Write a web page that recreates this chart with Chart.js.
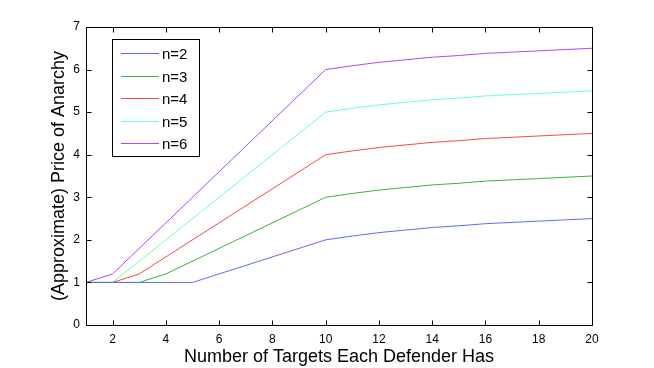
<!DOCTYPE html>
<html>
<head>
<meta charset="utf-8">
<title>Price of Anarchy</title>
<script src="https://cdn.jsdelivr.net/npm/chart.js@4.4.0/dist/chart.umd.min.js"></script>
<style>
    html, body { margin: 0; padding: 0; background: #fff; }
    #wrap { width: 654px; height: 368px; }
</style>
</head>
<body>
<div id="wrap"><canvas id="poaChart" width="654" height="368"></canvas></div>
<script>
// Values
const seriesLabels = ['n=2', 'n=3', 'n=4', 'n=5', 'n=6'];
const seriesColors = ['#5b6bff', '#3cb43c', '#ff4545', '#6cffc4', '#ac45ff'];

const xN2 = [1, 5, 10, 11, 12, 13, 14, 15, 16, 17, 18, 19, 20];
const yN2 = [1, 1, 2, 2.09, 2.17, 2.23, 2.29, 2.33, 2.38, 2.41, 2.44, 2.47, 2.5];

const xN3 = [1, 3, 4, 10, 11, 12, 13, 14, 15, 16, 17, 18, 19, 20];
const yN3 = [1, 1, 1.2, 3, 3.09, 3.17, 3.23, 3.29, 3.33, 3.38, 3.41, 3.44, 3.47, 3.5];

const xN4 = [1, 2, 3, 10, 11, 12, 13, 14, 15, 16, 17, 18, 19, 20];
const yN4 = [1, 1, 1.2, 4, 4.09, 4.17, 4.23, 4.29, 4.33, 4.38, 4.41, 4.44, 4.47, 4.5];

const xN5 = [1, 2, 10, 11, 12, 13, 14, 15, 16, 17, 18, 19, 20];
const yN5 = [1, 1, 5, 5.09, 5.17, 5.23, 5.29, 5.33, 5.38, 5.41, 5.44, 5.47, 5.5];

const xN6 = [1, 2, 10, 11, 12, 13, 14, 15, 16, 17, 18, 19, 20];
const yN6 = [1, 1.2, 6, 6.09, 6.17, 6.23, 6.29, 6.33, 6.38, 6.41, 6.44, 6.47, 6.5];

const xTicks = [2, 4, 6, 8, 10, 12, 14, 16, 18, 20];
const yTicks = [0, 1, 2, 3, 4, 5, 6, 7];

const FONT = '"Liberation Sans", Arial, Helvetica, sans-serif';

function toPoints(xs, ys) {
    return xs.map((x, i) => ({ x: x, y: ys[i] }));
}

const allX = [xN2, xN3, xN4, xN5, xN6];
const allY = [yN2, yN3, yN4, yN5, yN6];

const datasets = seriesLabels.map((label, i) => ({
    label: label,
    data: toPoints(allX[i], allY[i]),
    borderColor: seriesColors[i],
    backgroundColor: seriesColors[i],
    borderWidth: 1,
    pointRadius: 0,
    tension: 0,
    fill: false
}));

// box round the plot, with inward tick marks on all four sides
const framePlugin = {
    id: 'frame',
    afterDraw(chart) {
        const ctx = chart.ctx;
        const a = chart.chartArea;
        const xs = chart.scales.x, ys = chart.scales.y;
        const L = Math.round(a.left) + 0.5, R = Math.round(a.right) + 0.5;
        const T = Math.round(a.top) + 0.5, B = Math.round(a.bottom) + 0.5;
        const tl = 5;
        ctx.save();
        ctx.strokeStyle = '#000';
        ctx.lineWidth = 1;
        ctx.beginPath();
        ctx.rect(L, T, R - L, B - T);
        xTicks.forEach(v => {
            const px = Math.round(xs.getPixelForValue(v)) + 0.5;
            ctx.moveTo(px, B); ctx.lineTo(px, B - tl);
            ctx.moveTo(px, T); ctx.lineTo(px, T + tl);
        });
        yTicks.forEach(v => {
            const py = Math.round(ys.getPixelForValue(v)) + 0.5;
            ctx.moveTo(L, py); ctx.lineTo(L + tl, py);
            ctx.moveTo(R, py); ctx.lineTo(R - tl, py);
        });
        ctx.stroke();
        ctx.restore();
    }
};

// legend box in the upper left of the plot
const legendPlugin = {
    id: 'boxLegend',
    afterDraw(chart) {
        const ctx = chart.ctx;
        const bx = 112.5, by = 39.5, bw = 87, bh = 117;
        ctx.save();
        ctx.fillStyle = '#fff';
        ctx.fillRect(bx, by, bw, bh);
        ctx.strokeStyle = '#000';
        ctx.lineWidth = 1;
        ctx.strokeRect(bx, by, bw, bh);
        ctx.font = '15px ' + FONT;
        ctx.textBaseline = 'middle';
        ctx.textAlign = 'left';
        chart.data.datasets.forEach((ds, i) => {
            const y = Math.round(53 + i * 22.5) + 0.5;
            ctx.strokeStyle = ds.borderColor;
            ctx.beginPath();
            ctx.moveTo(121, y);
            ctx.lineTo(159, y);
            ctx.stroke();
            ctx.fillStyle = '#000';
            ctx.fillText(ds.label, 162, y + 1);
        });
        ctx.restore();
    }
};

new Chart(document.getElementById('poaChart'), {
    type: 'line',
    data: { datasets: datasets },
    options: {
        responsive: false,
        animation: false,
        devicePixelRatio: 1,
        layout: { padding: { top: 27, right: 62, left: 0, bottom: 0 } },
        plugins: {
            legend: { display: false },
            tooltip: { enabled: false }
        },
        scales: {
            x: {
                type: 'linear',
                min: 1,
                max: 20,
                afterBuildTicks: scale => { scale.ticks = xTicks.map(v => ({ value: v })); },
                afterFit: scale => { scale.height = 43; },
                grid: { display: false, drawTicks: false },
                border: { display: false },
                ticks: { color: '#000', font: { family: FONT, size: 12 }, padding: 7, maxRotation: 0 },
                title: {
                    display: true,
                    text: 'Number of Targets Each Defender Has',
                    color: '#000',
                    font: { family: FONT, size: 18 },
                    padding: { top: 0, bottom: 0 }
                }
            },
            y: {
                type: 'linear',
                min: 0,
                max: 7,
                afterBuildTicks: scale => { scale.ticks = yTicks.map(v => ({ value: v })); },
                afterFit: scale => { scale.width = 86; },
                grid: { display: false, drawTicks: false },
                border: { display: false },
                ticks: { color: '#000', font: { family: FONT, size: 12 }, padding: 6 },
                title: {
                    display: true,
                    text: '(Approximate) Price of Anarchy',
                    color: '#000',
                    font: { family: FONT, size: 18 },
                    padding: { top: 48, bottom: 0 }
                }
            }
        }
    },
    plugins: [framePlugin, legendPlugin]
});
</script>
</body>
</html>
